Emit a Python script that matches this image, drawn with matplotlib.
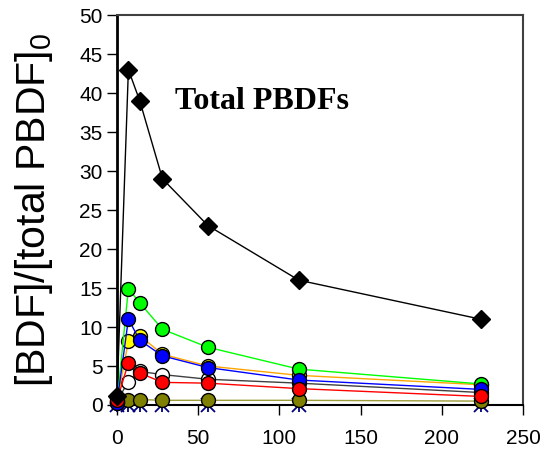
import matplotlib
matplotlib.use("Agg")
import matplotlib.pyplot as plt

# sampling times and concentration ratios
days = [0, 7, 14, 28, 56, 112, 224]
total = [1.2, 43, 39, 29, 23, 16, 11]
green = [0.4, 14.9, 13.1, 9.7, 7.4, 4.6, 2.7]
yellow = [0.4, 8.2, 8.9, 6.5, 5.0, 3.8, 2.6]
blue = [0.3, 11.0, 8.3, 6.3, 4.8, 3.2, 2.0]
white = [0.5, 3.0, 4.3, 3.9, 3.3, 2.8, 1.6]
red = [0.6, 5.4, 4.1, 2.9, 2.8, 2.1, 1.1]
olive = [0.3, 0.6, 0.7, 0.6, 0.6, 0.6, 0.5]
navy = [0, 0, 0, 0, 0, 0, 0]

xticks = [0, 50, 100, 150, 200, 250]
yticks = [0, 5, 10, 15, 20, 25, 30, 35, 40, 45, 50]

plt.rcParams['font.family'] = ['Liberation Sans', 'DejaVu Sans']
plt.rcParams['mathtext.fontset'] = 'custom'
plt.rcParams['mathtext.rm'] = 'Liberation Sans'

fig = plt.figure(figsize=(5.41, 4.51), dpi=100)
ax = fig.add_axes([0.2163, 0.102, 0.7504, 0.8647])

# navy series sits on the x axis
ax.plot(days, navy, color='#000080', lw=1.2, zorder=2, clip_on=False)
ax.plot(days, navy, ls='none', marker='x', ms=10, mew=1.3, color='#000080', zorder=2, clip_on=False)
ax.plot(days, navy, ls='none', marker='|', ms=10, mew=1.3, color='#000080', zorder=2, clip_on=False)

circ = dict(marker='o', ms=10, mec='black', mew=1, lw=1, clip_on=False)
ax.plot(days, olive, color='#9c9c3a', mfc='#808000', zorder=3, **circ)
ax.plot(days, white, color='#404040', mfc='white', zorder=3, **circ)
ax.plot(days, yellow, color='#FFA500', mfc='#FFFF00', zorder=3, **circ)
ax.plot(days, green, color='#00FF00', mfc='#00FF00', zorder=3, **circ)
ax.plot(days, blue, color='#0000FF', mfc='#0000FF', zorder=4, **circ)
ax.plot(days, red, color='#FF0000', mfc='#FF0000', zorder=5, **circ)
ax.plot(days, total, color='black', marker='D', ms=9, mfc='black', mec='black',
        lw=1, zorder=6, clip_on=False)

ax.text(36, 38, 'Total PBDFs', fontsize=23, fontweight='bold',
        family=['Liberation Serif', 'DejaVu Serif'], va='baseline')

ax.set_xlim(0, 250)
ax.set_ylim(0, 50)
ax.set_xticks(xticks)
ax.set_yticks(yticks)
ax.tick_params(direction='out', length=7, width=1, labelsize=15, colors='black')
ax.tick_params(axis='x', pad=10)
ax.set_ylabel('[BDF]/[total PBDF]$_\\mathrm{0}$', fontsize=29.5, labelpad=17)

ax.spines['left'].set_linewidth(2)
ax.spines['bottom'].set_linewidth(1.5)
for s in ['top', 'right']:
    ax.spines[s].set_color('#404040')
    ax.spines[s].set_linewidth(1.5)

fig.savefig('out.png', dpi=100)
